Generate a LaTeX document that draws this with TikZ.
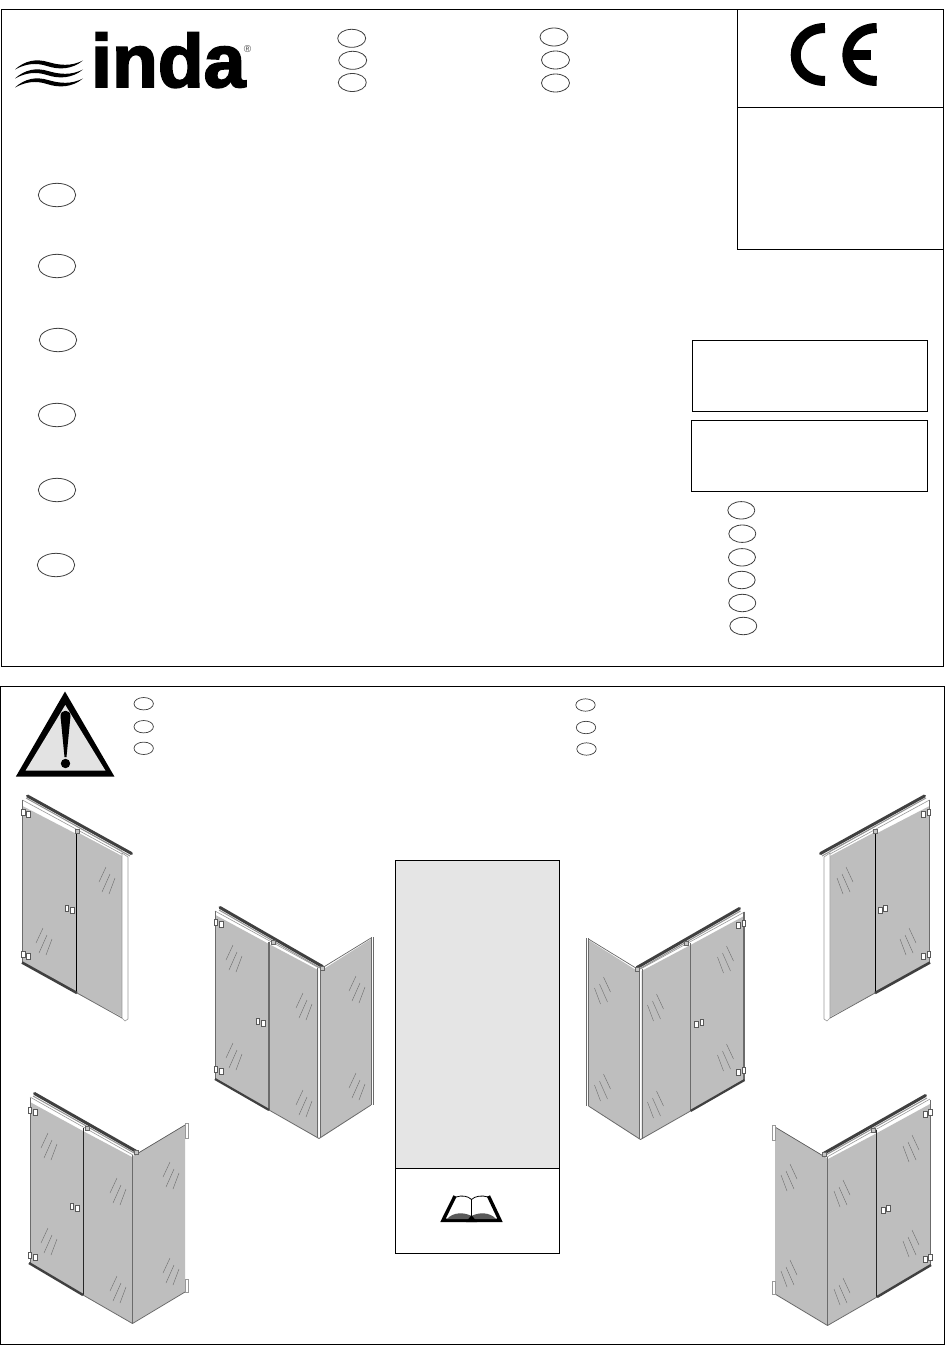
\documentclass[tikz,border=0pt]{standalone}
\usepackage{fontspec}
\newfontfamily\logofont{Liberation Sans}
\definecolor{glass}{gray}{0.745}
\definecolor{rail}{gray}{0.25}
\definecolor{edge}{gray}{0.42}
\tikzset{
  frameline/.style={draw=black,line width=1pt},
  oval/.style={draw=black!75,line width=0.8pt},
  glasspane/.style={fill=glass,draw=none},
  railbar/.style={draw=rail,line width=3pt,line cap=round},
  railshade/.style={draw=gray!85,line width=1pt},
  bandline/.style={draw=gray!80,line width=0.6pt},
  glintline/.style={draw=gray!85!black,line width=0.4pt},
  hingebox/.style={fill=white,draw=black!65,line width=0.6pt},
  joint/.style={fill=gray!45,draw=black!60,line width=0.5pt},
}
% three slanted streaks on a pane
\newcommand{\glint}[2]{\begin{scope}[shift={(#1,#2)}]
  \draw[glintline] (0,15) -- (7,0) (3,25) -- (11,7) (10,27) -- (16,11);
\end{scope}}
% pair of small boxes: hinge or handle
\newcommand{\hinge}[2]{\begin{scope}[shift={(#1,#2)}]
  \draw[hingebox] (0,0) rectangle (3.5,6) (5,2.5) rectangle (9,8.5);
\end{scope}}
\newcommand{\showerA}{
  \fill[glasspane] (22.5,806) -- (76.5,834) -- (76.5,993) -- (22.5,962) -- cycle;
  \fill[glasspane] (77,832) -- (122,856) -- (122,1017) -- (77,993) -- cycle;
  \draw[bandline,fill=white] (122,853) -- (128,857) -- (128,1019) -- (125,1021) -- (122,1018) -- cycle;
  \draw[bandline] (22.5,800) -- (122,854) (76,826) -- (122,851);
  \draw[railshade] (26,798) -- (130,856);
  \draw[railbar] (27.5,796) -- (131.5,853.5);
  \draw[edge,line width=1.4pt] (22.5,800) -- (22.5,962);
  \draw[black,line width=1.5pt] (76.5,830) -- (76.5,993);
  \draw[rail,line width=2.6pt] (22,962.5) -- (77,993);
  \draw[edge,line width=0.8pt] (77,993) -- (122,1018);
  \draw[joint] (75,829.5) rectangle (79,833.5);
  \hinge{21.5}{809} \hinge{21.5}{951} \hinge{65}{905}
  \glint{99}{867} \glint{36}{928}
}
\newcommand{\showerB}{
  \fill[glasspane] (215.5,915) -- (269,944) -- (269,1110) -- (215.5,1079) -- cycle;
  \fill[glasspane] (269,944) -- (318,970) -- (318,1138) -- (269,1110) -- cycle;
  \fill[glasspane] (320.5,971) -- (371,939) -- (371,1105) -- (320.5,1138) -- cycle;
  \draw[bandline] (215,911) -- (319,968);
  \draw[railshade] (219,910) -- (322,969);
  \draw[railbar] (220,907.5) -- (322.5,966.5);
  \draw[draw=black!60,line width=0.7pt] (322,968) -- (371,938);
  \draw[edge,line width=1.6pt] (215.5,911) -- (215.5,1079);
  \draw[edge,line width=1.8pt] (269,942) -- (269,1110);
  \draw[edge,line width=1pt] (317.5,968) -- (317.5,1138);
  \draw[edge,line width=1pt] (320.5,968) -- (320.5,1138);
  \draw[edge,line width=0.9pt] (373,937) -- (373,1105) (371,937) -- (371,1105);
  \draw[rail,line width=2.2pt] (215,1079) -- (269,1110);
  \draw[edge,line width=0.8pt] (269,1110) -- (319,1138.5) -- (371,1105);
  \draw[joint] (271,940) rectangle (275,944);
  \draw[joint] (320,966) rectangle (324,970);
  \hinge{214}{919} \hinge{214}{1066} \hinge{256}{1018}
  \glint{226}{945} \glint{226}{1043} \glint{296}{993}
  \glint{296}{1090} \glint{349}{976} \glint{349}{1073}
}
\newcommand{\showerC}{
  \fill[glasspane] (30,1102) -- (83,1131) -- (83,1295) -- (30,1263) -- cycle;
  \fill[glasspane] (83,1131) -- (132,1157) -- (132,1323) -- (83,1295) -- cycle;
  \fill[glasspane] (133,1156) -- (185,1125) -- (185,1292) -- (133,1323) -- cycle;
  \draw[bandline] (30,1097) -- (133,1155);
  \draw[railshade] (33,1096) -- (136,1154);
  \draw[railbar] (34.5,1093.5) -- (136.5,1151.5);
  \draw[draw=black!65,line width=0.7pt] (135,1155) -- (185,1125);
  \draw[edge,line width=1pt] (30,1098) -- (30,1263);
  \draw[black!85,line width=1.4pt] (83.3,1128) -- (83.3,1295);
  \draw[edge,line width=1.3pt] (132.5,1155) -- (132.5,1324);
  \draw[rail,line width=2.4pt] (29,1263) -- (83,1295);
  \draw[edge,line width=0.8pt] (83,1295) -- (132.5,1323.5) -- (185,1292);
  \draw[joint] (85,1126) rectangle (89,1130);
  \draw[joint] (134,1150) rectangle (138,1154);
  \draw[bandline,fill=white] (185,1123) rectangle (188,1138) (185,1279) rectangle (188,1292);
  \hinge{28}{1107} \hinge{28}{1252} \hinge{70}{1203}
  \glint{41}{1133} \glint{41}{1228} \glint{110}{1178}
  \glint{110}{1276} \glint{163}{1162} \glint{163}{1258}
}
\begin{document}
\begin{tikzpicture}[x=1pt,y=-1pt]
\useasboundingbox (0,0) rectangle (950,1360);
\fill[white] (0,0) rectangle (950,1360);
% frames
\draw[frameline] (1,9) rectangle (943.5,666);
\draw[frameline] (737,9) -- (737,249) -- (943.5,249);
\draw[frameline] (737,107) -- (943.5,107);
\draw[frameline] (692.5,340.5) rectangle (927.5,411.5);
\draw[frameline] (691.5,420.5) rectangle (927.5,491.5);
\draw[frameline] (0.8,686) rectangle (944.5,1344);
% logo
\node[inner sep=0pt,anchor=base west] (logo) at (91,87) {\fontsize{75}{75}\logofont\addfontfeature{FakeBold=2.5}\bfseries inda};
\node[inner sep=0pt,text=black!70] (reg) at (247.5,49.5) {\fontsize{10}{10}\logofont ®};
\foreach \dy in {0,9,18}
  \fill[black,yshift=-\dy pt] (15,69.5) .. controls (25,60.5) and (36,58.5) .. (48,62) .. controls (60,65.5) and (71,66.5) .. (83,60.5) .. controls (72,69.5) and (59,70) .. (47,66) .. controls (36,62.5) and (26,63.5) .. (15,69.5) -- cycle;
% CE mark
\draw[draw=black,line width=10pt] (825,28) .. controls (807,28) and (795.7,41) .. (795.7,55) .. controls (795.7,69) and (807,81) .. (825,81);
\draw[draw=black,line width=10pt] (876.7,28) .. controls (859,28) and (847.3,41) .. (847.3,55) .. controls (847.3,69) and (859,81) .. (876.7,81);
\fill[black] (850,50) rectangle (871,60);
% ovals
\foreach \px/\py in {351.7/38.3,352.7/60.3,352.3/82.5,554/37,555.5/60,555.5/83}
  \draw[oval] (\px,\py) ellipse [x radius=14,y radius=9];
\foreach \px/\py in {57/195,57/266,58/340,57/415,57/490,56/565}
  \draw[oval] (\px,\py) ellipse [x radius=18.7,y radius=11.7];
\foreach \px/\py in {741.3/510.3,742.3/533.7,742/557.3,741.7/580,742.3/603,743.3/626}
  \draw[oval] (\px,\py) ellipse [x radius=13.5,y radius=8.7];
\foreach \px/\py in {143.7/703.7,143.7/726.7,143.7/748.3,585.5/705,586/727.5,586.5/749}
  \draw[oval,line width=0.7pt] (\px,\py) ellipse [x radius=9.7,y radius=6.2];
% warning triangle
\fill[black] (65,691.5) -- (114.5,776.7) -- (15.8,776.7) -- cycle;
\fill[gray!22] (65.3,705) -- (105.5,770.7) -- (25.5,770.7) -- cycle;
\fill[black] (60.5,716) .. controls (60.5,709) and (70.5,709) .. (70.5,716) -- (66.5,757) -- (64.5,757) -- cycle;
\fill[black] (65.5,763.5) circle (4.7);
% centre panel
\fill[gray!20] (395.7,860) rectangle (559.3,1168.3);
\draw[frameline] (395.7,860) rectangle (559.3,1253.3);
\draw[frameline] (395.7,1168.3) -- (559.3,1168.3);
% book
\draw[black,line width=0.8pt] (456,1197) .. controls (462,1195) and (468,1196) .. (471.5,1199.5) .. controls (475,1196) and (482,1195) .. (488,1197);
\draw[black,line width=0.8pt] (471.5,1199.5) -- (471.5,1218);
\draw[black,line width=3.4pt] (455,1196) -- (443,1220.3) -- (500,1220.3) -- (488.5,1196);
\fill[black!65] (447,1219) .. controls (453,1212) and (464,1212) .. (471.5,1216) .. controls (479,1212) and (490,1212) .. (496,1219) -- cycle;
\fill[black] (466,1222) -- (471.5,1215) -- (477,1222) -- cycle;
% showers
\showerA
\showerB
\showerC
\begin{scope}[xshift=952pt,xscale=-1] \showerA \end{scope}
\begin{scope}[xshift=959.5pt,yshift=-1pt,xscale=-1] \showerB \end{scope}
\begin{scope}[xshift=960pt,yshift=-2pt,xscale=-1] \showerC \end{scope}
\end{tikzpicture}
\end{document}
